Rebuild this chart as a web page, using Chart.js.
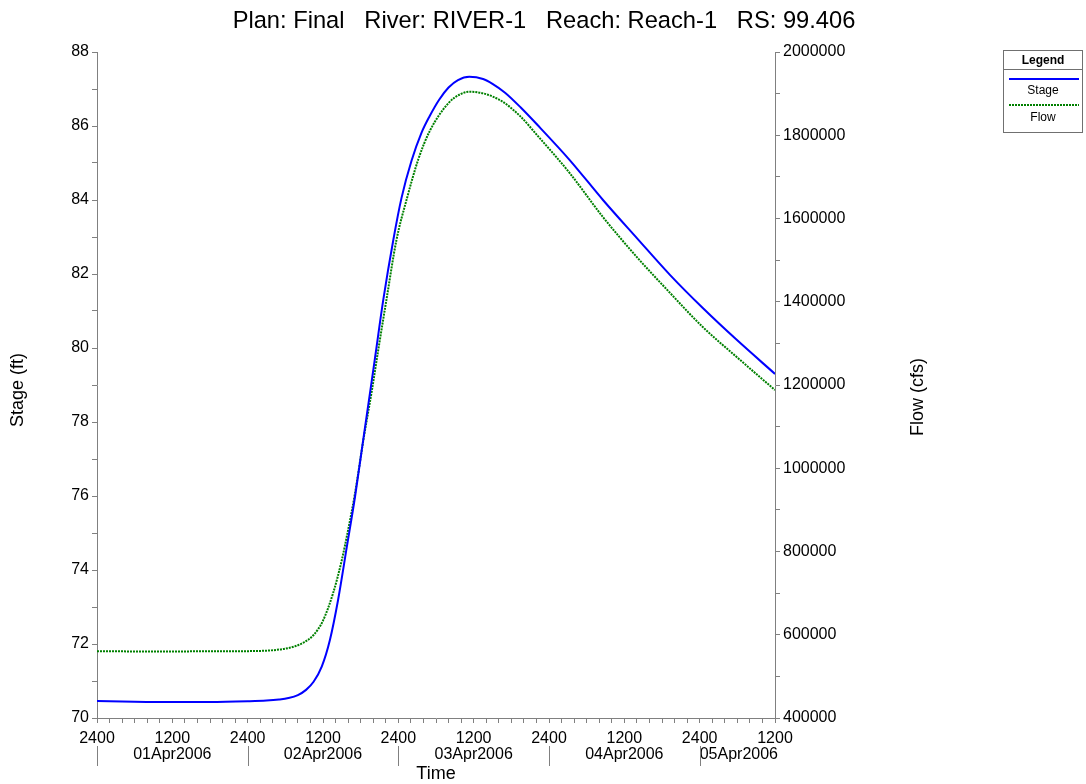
<!DOCTYPE html>
<html>
<head>
<meta charset="utf-8">
<title>Stage and Flow Hydrograph</title>
<script src="https://cdn.jsdelivr.net/npm/chart.js@4.4.0/dist/chart.umd.min.js"></script>
<style>
  html, body { margin: 0; padding: 0; background: #fff; }
  #wrap { width: 1086px; height: 784px; }
</style>
</head>
<body>
<div id="wrap"><canvas id="hydroChart" width="1086" height="784"></canvas></div>
<script>
// hours counted from 01Apr2006 0000 (shown as 2400 of the day before)
const stageHours = [0, 6, 12, 18, 24, 27, 29, 30.5, 32, 33.3, 34.5, 35.8, 37.1, 38.4, 39.8, 41.1, 42.4, 43.5, 44.3, 45.6, 47.2, 48.5, 50.1, 51.7, 53, 54.5, 56, 57.5, 59.3, 61.5, 63, 65, 67.5, 70.1, 75.3, 80.6, 86, 91.3, 96.5, 101.9, 108];
const stageFt = [70.46, 70.44, 70.43, 70.43, 70.45, 70.47, 70.5, 70.54, 70.62, 70.76, 70.98, 71.39, 72.11, 73.19, 74.63, 75.98, 77.51, 78.8, 79.75, 81.3, 82.92, 84.05, 85.06, 85.82, 86.27, 86.71, 87.04, 87.24, 87.33, 87.27, 87.14, 86.9, 86.5, 86.04, 85.08, 84.0, 82.97, 81.97, 81.08, 80.22, 79.3];

const flowHours = [0, 6, 12, 18, 24, 27, 28.5, 30, 31.5, 33, 34.5, 36, 37.6, 39, 40, 41.1, 42.4, 43.8, 44.8, 46.1, 47.7, 49.3, 51.2, 53, 56, 57.8, 59.4, 61.5, 63, 64.7, 67.4, 70.1, 75.3, 80.6, 86, 91.3, 96.5, 101.9, 108];
const flowCfs = [560500, 560000, 560000, 560200, 560600, 561800, 563500, 566500, 572000, 582000, 599400, 634000, 699600, 779600, 851700, 939800, 1065000, 1188000, 1284100, 1404200, 1548300, 1644400, 1743000, 1810000, 1877400, 1898000, 1904500, 1900600, 1893100, 1879800, 1846000, 1800400, 1709100, 1603400, 1507300, 1420900, 1339200, 1267200, 1187900];

const dayLabels = ["01Apr2006", "02Apr2006", "03Apr2006", "04Apr2006", "05Apr2006"];
const dayBreakHours = [0, 24, 48, 72, 96];
const chartTitle = "Plan: Final   River: RIVER-1   Reach: Reach-1   RS: 99.406";

const FONT = "'Liberation Sans', Arial, sans-serif";
const axisGray = "#808080";

Chart.defaults.font.family = FONT;
Chart.defaults.color = "#000";

function stepTicks(min, max, step) {
  const out = [];
  for (let v = min; v <= max + step / 1000; v += step) out.push({ value: Math.round(v * 1000) / 1000 });
  return out;
}

// text, date row and legend box drawn on top of the chart
const decorPlugin = {
  id: "decor",
  afterDraw(chart) {
    const ctx = chart.ctx;
    const area = chart.chartArea;
    const xs = chart.scales.x;
    ctx.save();
    ctx.fillStyle = "#000";
    ctx.textAlign = "center";
    ctx.textBaseline = "middle";

    ctx.font = "23.7px " + FONT;
    ctx.fillText(chartTitle, 544, 21);

    // date row under the hour labels
    ctx.font = "16px " + FONT;
    dayLabels.forEach((d, i) => {
      const w = ctx.measureText(d).width;
      let cx = xs.getPixelForValue(12 + 24 * i);
      if (cx + w / 2 > area.right + 3) cx = area.right + 3 - w / 2;
      ctx.fillText(d, cx, 755);
    });
    ctx.strokeStyle = axisGray;
    ctx.lineWidth = 1;
    dayBreakHours.forEach((h) => {
      const px = Math.round(xs.getPixelForValue(h)) + 0.5;
      ctx.beginPath();
      ctx.moveTo(px, 746);
      ctx.lineTo(px, 766);
      ctx.stroke();
    });

    ctx.font = "18px " + FONT;
    ctx.fillText("Time", (area.left + area.right) / 2, 774);

    ctx.save();
    ctx.translate(18, 390);
    ctx.rotate(-Math.PI / 2);
    ctx.fillText("Stage (ft)", 0, 0);
    ctx.restore();

    ctx.save();
    ctx.translate(918, 397);
    ctx.rotate(-Math.PI / 2);
    ctx.fillText("Flow (cfs)", 0, 0);
    ctx.restore();

    // legend box
    ctx.strokeStyle = "#707070";
    ctx.strokeRect(1003.5, 50.5, 79, 82);
    ctx.beginPath();
    ctx.moveTo(1003.5, 69.5);
    ctx.lineTo(1082.5, 69.5);
    ctx.stroke();
    ctx.font = "bold 12px " + FONT;
    ctx.fillText("Legend", 1043, 60.5);
    ctx.font = "12px " + FONT;

    ctx.strokeStyle = "#0000ff";
    ctx.lineWidth = 2;
    ctx.beginPath();
    ctx.moveTo(1009, 79);
    ctx.lineTo(1079, 79);
    ctx.stroke();
    ctx.fillText("Stage", 1043, 91);

    ctx.strokeStyle = "#008000";
    ctx.setLineDash([2, 1]);
    ctx.beginPath();
    ctx.moveTo(1009, 105);
    ctx.lineTo(1079, 105);
    ctx.stroke();
    ctx.setLineDash([]);
    ctx.fillText("Flow", 1043, 118);
    ctx.restore();
  }
};

const stagePoints = stageHours.map((h, i) => ({ x: h, y: stageFt[i] }));
const flowPoints = flowHours.map((h, i) => ({ x: h, y: flowCfs[i] }));

new Chart(document.getElementById("hydroChart").getContext("2d"), {
  type: "line",
  data: {
    datasets: [
      {
        label: "Stage",
        data: stagePoints,
        yAxisID: "yStage",
        borderColor: "#0000ff",
        borderWidth: 2,
        pointRadius: 0,
        cubicInterpolationMode: "monotone",
      },
      {
        label: "Flow",
        data: flowPoints,
        yAxisID: "yFlow",
        borderColor: "#008000",
        borderWidth: 2,
        borderDash: [2, 1],
        pointRadius: 0,
        cubicInterpolationMode: "monotone",
      },
    ],
  },
  options: {
    responsive: false,
    animation: false,
    devicePixelRatio: 1,
    layout: { padding: { top: 52, left: 0, right: 0, bottom: 0 } },
    plugins: {
      legend: { display: false },
      title: { display: false },
      tooltip: { enabled: false },
    },
    scales: {
      x: {
        type: "linear",
        min: 0,
        max: 108,
        afterBuildTicks: (s) => { s.ticks = stepTicks(0, 108, 2); },
        afterFit: (s) => { s.height = 66; },
        grid: { drawOnChartArea: false, tickLength: 5, color: axisGray },
        border: { color: axisGray },
        ticks: {
          autoSkip: false,
          maxRotation: 0,
          minRotation: 0,
          padding: 6,
          font: { size: 16 },
          callback: (v) => (v % 24 === 0 ? "2400" : v % 12 === 0 ? "1200" : ""),
        },
      },
      yStage: {
        position: "left",
        min: 70,
        max: 88,
        afterBuildTicks: (s) => { s.ticks = stepTicks(70, 88, 1); },
        afterFit: (s) => { s.width = 97; },
        grid: { drawOnChartArea: false, tickLength: 5, color: axisGray },
        border: { color: axisGray },
        ticks: {
          autoSkip: false,
          padding: 3,
          font: { size: 16 },
          callback: (v) => (v % 2 === 0 ? String(v) : ""),
        },
      },
      yFlow: {
        position: "right",
        min: 400000,
        max: 2000000,
        afterBuildTicks: (s) => { s.ticks = stepTicks(400000, 2000000, 100000); },
        afterFit: (s) => { s.width = 311; },
        grid: { drawOnChartArea: false, tickLength: 5, color: axisGray },
        border: { color: axisGray },
        ticks: {
          autoSkip: false,
          padding: 3,
          font: { size: 16 },
          callback: (v) => (v % 200000 === 0 ? String(v) : ""),
        },
      },
    },
  },
  plugins: [decorPlugin],
});
</script>
</body>
</html>
